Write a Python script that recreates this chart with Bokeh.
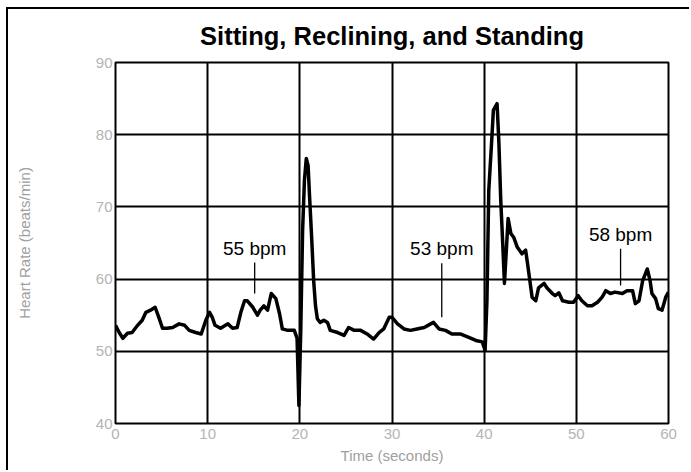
from bokeh.plotting import figure
from bokeh.models import Range1d, ColumnDataSource
from bokeh.core.properties import value
from bokeh.embed import file_html
from bokeh.resources import INLINE

title_text = "Sitting, Reclining, and Standing"
x_title = "Time (seconds)"
y_title = "Heart Rate (beats/min)"
x_ticks = [0, 10, 20, 30, 40, 50, 60]
y_ticks = [40, 50, 60, 70, 80, 90]

time_s = [0.0, 0.4, 0.8, 1.3, 1.8, 2.4, 2.9, 3.3, 3.8, 4.3, 4.7, 5.1, 5.6, 6.2, 6.9, 7.5,
          8.0, 8.7, 9.3, 9.8, 10.2, 10.5, 10.8, 11.4, 12.2, 12.7, 13.2, 13.6, 14.0, 14.3,
          14.9, 15.4, 15.7, 16.1, 16.5, 16.9, 17.4, 17.8, 18.1, 18.7, 19.4, 19.7,
          19.9, 20.1, 20.2, 20.3, 20.5, 20.7, 20.9, 21.05, 21.3, 21.5, 21.7, 21.9,
          22.2, 22.6, 23.0, 23.3, 24.1, 24.8, 25.3, 25.9, 26.6, 27.3, 28.0, 28.6, 29.1,
          29.7, 30.0, 30.6,
          31.3, 32.0, 32.7, 33.5, 34.2, 34.5, 35.1, 35.8, 36.5, 37.4, 38.2, 39.1, 39.8, 40.1,
          40.3, 40.5, 40.8, 41.0, 41.4, 41.6, 41.8, 42.0, 42.2, 42.6, 42.9, 43.2, 43.6,
          44.1, 44.5, 44.7, 45.0, 45.2, 45.6, 45.9, 46.5, 46.8, 47.4, 47.7,
          48.1, 48.5, 49.2, 49.7, 50.2, 50.6, 51.2, 51.7, 52.3, 52.8, 53.2, 53.7, 54.2,
          55.0, 55.5, 56.1, 56.4, 56.8, 57.2, 57.7, 58.0, 58.2, 58.6, 58.9, 59.3, 59.7, 60.0]

heart_rate = [53.6, 52.6, 51.8, 52.5, 52.6, 53.6, 54.3, 55.4, 55.7, 56.1, 54.7, 53.2, 53.2,
              53.3, 53.8, 53.6, 52.9, 52.6, 52.4, 54.3, 55.4, 54.7, 53.6, 53.2, 53.8, 53.2,
              53.3, 55.4, 57.0, 57.0, 56.1, 55.0, 55.7, 56.3, 55.7, 58.0, 57.3, 55.2, 53.1,
              52.9, 52.9, 51.8,
              42.5, 52.9, 59.8, 66.7, 73.7, 76.7, 75.7, 71.6, 65.3, 59.8, 56.3, 54.5,
              54.0, 54.3, 54.0, 52.9, 52.6, 52.2, 53.3, 52.9, 52.9, 52.4, 51.7, 52.6, 53.1,
              54.7, 54.7, 53.8,
              53.1, 52.9, 53.1, 53.3, 53.8, 54.0, 53.1, 52.9, 52.4, 52.4, 52.0, 51.5, 51.3, 50.1,
              57.0, 72.3, 78.8, 83.4, 84.3, 78.8, 70.9, 65.3, 59.4, 68.4, 66.3, 65.8, 64.4,
              63.5, 64.0, 62.2, 59.4, 57.5, 57.0, 58.8, 59.4, 58.8, 58.0, 57.7,
              58.1, 57.0, 56.8, 56.8, 57.7, 57.0, 56.3, 56.3, 56.8, 57.5, 58.4, 58.0, 58.2,
              58.0, 58.4, 58.4, 56.6, 57.0, 59.8, 61.4, 59.8, 58.0, 57.3, 55.9, 55.7, 57.5, 58.2]

ann_text = ["55 bpm", "53 bpm", "58 bpm"]
ann_x = [15.1, 35.4, 54.8]
ann_text_y = [64.3, 64.2, 66.2]
ann_line_top = [62.3, 62.2, 64.2]
ann_line_bottom = [58.0, 54.7, 59.1]

p = figure(width=683, height=463, x_range=Range1d(0, 60), y_range=Range1d(40, 90),
           output_backend="svg", toolbar_location=None,
           min_border_left=107, min_border_right=23, min_border_top=53, min_border_bottom=49)
p.styles = {"margin-left": "6px", "margin-top": "7px",
            "border-left": "2px solid #000000", "border-top": "2px solid #000000"}
p.background_fill_color = "white"
p.border_fill_color = "white"
p.outline_line_color = "black"
p.outline_line_width = 2

p.title.text = title_text
p.title.align = "center"
p.title.vertical_align = "top"
p.title.text_font = "Liberation Sans"
p.title.text_font_style = "bold"
p.title.text_font_size = "25.5px"
p.title.text_color = "black"
p.title.standoff = 22

for ax in (p.xaxis, p.yaxis):
    ax.major_tick_in = 0
    ax.major_tick_out = 0
    ax.minor_tick_line_color = None
    ax.axis_line_color = None
    ax.major_label_text_font = "Liberation Sans"
    ax.major_label_text_font_size = "15px"
    ax.major_label_text_color = "#b4b4b4"
    ax.axis_label_text_font = "Liberation Sans"
    ax.axis_label_text_font_size = "15px"
    ax.axis_label_text_font_style = "normal"
    ax.axis_label_text_color = "#a0a0a0"

p.xaxis.ticker = x_ticks
p.yaxis.ticker = y_ticks
p.xaxis.axis_label = x_title
p.yaxis.axis_label = y_title
p.xaxis.major_label_standoff = 5
p.xaxis.axis_label_standoff = 5
p.yaxis.major_label_standoff = 3
p.yaxis.axis_label_standoff = 60

p.xgrid.grid_line_color = "black"
p.xgrid.grid_line_width = 2
p.ygrid.grid_line_color = "black"
p.ygrid.grid_line_width = 2

p.line(time_s, heart_rate, line_color="black", line_width=3.5, line_join="round")

ann = ColumnDataSource(dict(x=ann_x, ty=ann_text_y, top=ann_line_top, bot=ann_line_bottom, text=ann_text))
p.segment(x0="x", y0="bot", x1="x", y1="top", source=ann, line_color="black", line_width=1.3)
p.text(x="x", y="ty", text="text", source=ann, text_align="center", text_baseline="alphabetic",
       text_font=value("Liberation Sans"), text_font_size="19px", text_color="black")

open("out.html", "w").write(file_html(p, INLINE))
